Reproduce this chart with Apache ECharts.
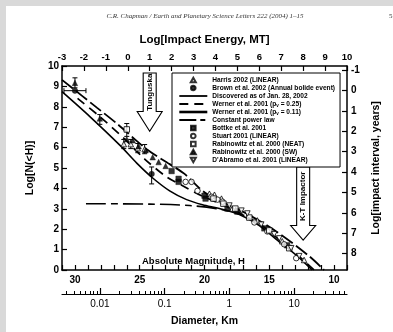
<!DOCTYPE html>
<html><head><meta charset="utf-8">
<script src="https://cdn.jsdelivr.net/npm/echarts@6/dist/echarts.min.js"></script>
<style>
html,body{margin:0;padding:0;background:#d9d9d9;width:393px;height:332px;overflow:hidden}
#page{position:absolute;left:6px;top:6px;width:387px;height:326px;background:#fff}
#chart{position:absolute;left:0;top:0;width:393px;height:332px}
</style></head><body><div id="page"></div><div id="chart"></div>
<script>
// ---- Curves: absolute magnitude H vs log N(<H)
var discH = [31, 28.85, 26.54, 25.23, 24.0, 22.69, 21.38, 20.15, 18.85, 17.31, 15.77, 14.46, 12.92, 11.69];
var discN = [8.74, 7.52, 6.12, 5.24, 4.51, 3.88, 3.45, 3.20, 3.01, 2.72, 2.18, 1.50, 0.73, 0.00];
var w25H = [29.8, 28.08, 26.15, 24.62, 22.92, 21.69, 20.23, 18.46, 16.92, 15.38, 13.85, 12.54, 11.54];
var w25N = [8.41, 7.52, 6.41, 5.44, 4.56, 4.13, 3.64, 3.16, 2.67, 2.09, 1.26, 0.58, 0.00];
var w11H = [31, 28.31, 26.69, 24.46, 22.69, 21.54, 19.85, 16.77, 14.46, 11.92, 10.77];
var w11N = [9.32, 7.96, 7.14, 5.92, 5.19, 4.71, 3.74, 2.77, 1.89, 0.68, 0.00];
var cplH = [29.15, 24.23, 21.15, 19.08, 17.69, 16.92];
var cplN = [3.25, 3.23, 3.16, 3.01, 2.82, 2.67];

// ---- Observed points
var harrisH = [26.23, 25.69, 25.15, 24.62, 19.62, 19.23, 18.69, 17.85, 15.92, 14.0, 12.31];
var harrisN = [6.17, 6.17, 5.97, 5.92, 3.74, 3.69, 3.50, 3.01, 2.43, 1.41, 0.49];
var brownH = [30.0, 24.08];
var brownN = [8.79, 4.71];
var bottkeH = [22.54, 22.0, 22.0, 20.0, 19.92, 18.23, 17.46, 15.38, 13.62];
var bottkeN = [4.85, 4.47, 4.32, 3.64, 3.50, 3.01, 2.86, 2.04, 1.21];
var stuartH = [21.46, 21.0, 20.54, 19.46, 19.0, 18.62, 16.15, 15.15, 13.85, 12.92];
var stuartN = [4.32, 4.32, 3.88, 3.59, 3.45, 3.35, 2.33, 1.89, 1.26, 0.58];
var neatH = [26.0, 19.31, 18.54, 17.62, 16.54, 15.0, 13.46];
var neatN = [6.89, 3.50, 3.25, 3.01, 2.57, 1.94, 1.07];
var swH = [30.0, 28.08, 26.0, 25.54, 25.08, 24.54, 24.0, 23.54, 23.0];
var swN = [9.17, 7.43, 6.41, 6.36, 6.07, 5.87, 5.53, 5.29, 5.10];
var dabH = [18.08, 17.15, 16.69, 15.62, 14.62, 14.23, 13.31, 12.69];
var dabN = [3.16, 2.91, 2.77, 2.23, 1.75, 1.55, 1.07, 0.68];

// ---- Error bars
var ebH  = [30.0, 28.08, 26.0, 26.23, 25.69, 25.15, 24.62, 24.08];
var ebLo = [8.93, 7.14, 6.55, 5.95, 5.95, 5.75, 5.70, 4.22];
var ebHi = [9.42, 7.62, 7.18, 6.40, 6.40, 6.20, 6.15, 5.05];
var ehN  = [8.79];
var ehLo = [30.85];
var ehHi = [29.15];

// ---- Arrows (x in log energy, y in log N)
var arrowE    = [1, 8];
var arrowTop  = [9.66, 5.05];
var arrowBase = [7.77, 2.18];
var arrowTip  = [6.80, 1.46];
var arrowText = ['Tunguska', 'K-T Impactor'];

// ---- Axis ticks
var intervalTicks = [-1,0,1,2,3,4,5,6,7,8];
var diamLeft = 0.0026, diamRight = 65.5;
var diamMajor = [0.01, 0.1, 1, 10];

var FONT = '"Liberation Sans", Arial, sans-serif';
function zip(a,b){return a.map(function(v,i){return [v,b[i]];});}
var diamMinor = [];
[0.001,0.01,0.1,1,10].forEach(function(d){for(var k=2;k<=9;k++){var v=Math.log10(k*d); if(v>Math.log10(diamLeft)&&v<Math.log10(diamRight)) diamMinor.push(v);}});
var diamMajorL = diamMajor.map(function(v){return Math.log10(v);});

var lab = {color:'#000', fontFamily:FONT, fontWeight:'bold', fontSize:10};
var axLine = {show:true, onZero:false, lineStyle:{color:'#000', width:1.5}};
var tick = {show:true, inside:true, length:5, lineStyle:{color:'#000', width:1.2}};

var TRI = 'path://M5,0L10,9L0,9Z';
var TRI_DOWN = 'path://M0,0L10,0L5,9Z';
var SQ = 'path://M0,0L10,0L10,10L0,10Z';
var CIR = 'path://M5,0A5,5,0,1,1,4.99,0Z';

function hollow(){return {color:'#fff', borderColor:'#000', borderWidth:1};}
function filled(){return {color:'#000', borderColor:'#000', borderWidth:0.5};}
function lineS(name, H, N, type, w){
  return {name:name, type:'line', xAxisIndex:0, yAxisIndex:0, data:zip(H,N), symbol:'none', smooth:0.3,
    lineStyle:{color:'#000', width:w||1.6, type:type}, itemStyle:{color:'#000'}, z:3};
}
function scat(name, H, N, sym, st, rot){
  return {name:name, type:'scatter', xAxisIndex:0, yAxisIndex:0, data:zip(H,N), symbol:sym, symbolSize:5.5,
    symbolRotate:rot||0, itemStyle:st, z:5};
}
var noSym = {color:'rgba(0,0,0,0)', borderWidth:0, opacity:0};

var option = {
  animation:false,
  grid:{left:62, top:66, width:285, height:206, show:false},
  xAxis:[
    {type:'value', gridIndex:0, min:9, max:31, interval:1, inverse:true, position:'bottom',
     axisLine:axLine, axisTick:tick, splitLine:{show:false},
     axisLabel:Object.assign({margin:5, formatter:function(v){return v%5===0?String(v):'';}}, lab)},
    {type:'value', gridIndex:0, min:-3, max:10, interval:1, position:'top',
     axisLine:axLine, axisTick:tick, splitLine:{show:false},
     axisLabel:Object.assign({margin:4}, lab, {fontSize:9.5}),
     name:'Log[Impact Energy, MT]', nameLocation:'middle', nameGap:20,
     nameTextStyle:{color:'#000', fontFamily:FONT, fontWeight:'bold', fontSize:11.5}},
    {type:'value', gridIndex:0, min:Math.log10(diamLeft), max:Math.log10(diamRight), position:'bottom', offset:24,
     axisLine:{show:true, onZero:false, lineStyle:{color:'#000', width:1.2}},
     axisTick:{show:true, inside:true, length:3, customValues:diamMinor, lineStyle:{color:'#000', width:1}},
     axisLabel:{show:false}, splitLine:{show:false}},
    {type:'value', gridIndex:0, min:Math.log10(diamLeft), max:Math.log10(diamRight), position:'bottom', offset:24,
     axisLine:{show:false, onZero:false},
     axisTick:{show:true, inside:true, length:6, customValues:diamMajorL, lineStyle:{color:'#000', width:1.2}},
     axisLabel:{show:true, customValues:diamMajorL, margin:5, color:'#000', fontFamily:FONT, fontSize:10,
       formatter:function(v){return String(+Math.pow(10,v).toPrecision(1));}},
     splitLine:{show:false},
     name:'Diameter, Km', nameLocation:'middle', nameGap:22,
     nameTextStyle:{color:'#000', fontFamily:FONT, fontWeight:'bold', fontSize:10.5}}
  ],
  yAxis:[
    {type:'value', gridIndex:0, min:0, max:10, interval:1, position:'left',
     axisLine:axLine, axisTick:tick, splitLine:{show:false},
     axisLabel:Object.assign({margin:3}, lab),
     name:'Log[N(<H)]', nameLocation:'middle', nameGap:26,
     nameTextStyle:{color:'#000', fontFamily:FONT, fontWeight:'bold', fontSize:10.5}},
    {type:'value', gridIndex:0, min:-1.2, max:8.8, inverse:true, position:'right',
     axisLine:axLine, axisTick:Object.assign({customValues:intervalTicks}, tick), splitLine:{show:false},
     axisLabel:Object.assign({margin:4, customValues:intervalTicks}, lab),
     name:'Log[impact interval, years]', nameLocation:'middle', nameGap:22,
     nameTextStyle:{color:'#000', fontFamily:FONT, fontWeight:'bold', fontSize:10.5}}
  ],
  legend:{
    orient:'vertical', left:172, top:73, padding:[3,5,3,6], itemWidth:28, itemHeight:4.6, itemGap:0,
    selectedMode:false, borderColor:'#000', borderWidth:1, backgroundColor:'#fff', z:10,
    textStyle:{color:'#000', fontFamily:FONT, fontWeight:'bold', fontSize:6.6, lineHeight:8,
      rich:{s:{fontSize:4.5, fontWeight:'bold', fontFamily:FONT, color:'#000', verticalAlign:'bottom', lineHeight:8, padding:[3,0,0,0]}}},
    formatter:function(n){return n.replace('(pv', '(p{s|v}');},
    data:[
      {name:'Harris 2002 (LINEAR)', icon:TRI},
      {name:'Brown et al. 2002 (Annual bolide event)', icon:CIR},
      {name:'Discovered as of Jan. 28, 2002', itemStyle:noSym, lineStyle:{type:'solid', width:1.8}},
      {name:'Werner et al. 2001 (pv = 0.25)', itemStyle:noSym, lineStyle:{type:[9,6], width:1.8}},
      {name:'Werner et al. 2001 (pv = 0.11)', itemStyle:noSym, lineStyle:{type:'solid', width:2.6}},
      {name:'Constant power law', itemStyle:noSym, lineStyle:{type:[17,4,5,4], width:1.8}},
      {name:'Bottke et al. 2001', icon:SQ},
      {name:'Stuart 2001 (LINEAR)', icon:CIR},
      {name:'Rabinowitz et al. 2000 (NEAT)', icon:SQ},
      {name:'Rabinowitz et al. 2000 (SW)', icon:TRI},
      {name:"D'Abramo et al. 2001 (LINEAR)", icon:TRI_DOWN}
    ]
  },
  graphic:[
    {type:'text', x:205, y:16, style:{text:'C.R. Chapman / Earth and Planetary Science Letters 222 (2004) 1–15',
      font:'italic 7px "Liberation Serif", serif', fill:'#333', align:'center', verticalAlign:'middle'}},
    {type:'text', x:389, y:16, style:{text:'5', font:'7px "Liberation Serif", serif', fill:'#333', align:'left', verticalAlign:'middle'}},
    {type:'text', x:142, y:261, z:20, style:{text:'Absolute Magnitude, H', font:'bold 9.5px "Liberation Sans", Arial, sans-serif', fill:'#000', align:'left', verticalAlign:'middle'}}
  ],
  series:[
    scat('Harris 2002 (LINEAR)', harrisH, harrisN, 'triangle', hollow()),
    scat('Brown et al. 2002 (Annual bolide event)', brownH, brownN, 'circle', filled()),
    lineS('Discovered as of Jan. 28, 2002', discH, discN, 'solid', 1.6),
    lineS('Werner et al. 2001 (pv = 0.25)', w25H, w25N, [9,6], 1.7),
    lineS('Werner et al. 2001 (pv = 0.11)', w11H, w11N, [14,4], 1.8),
    lineS('Constant power law', cplH, cplN, [20,5,7,5], 1.6),
    scat('Bottke et al. 2001', bottkeH, bottkeN, 'rect', filled()),
    scat('Stuart 2001 (LINEAR)', stuartH, stuartN, 'circle', hollow()),
    scat('Rabinowitz et al. 2000 (NEAT)', neatH, neatN, 'rect', hollow()),
    scat('Rabinowitz et al. 2000 (SW)', swH, swN, 'triangle', filled()),
    scat("D'Abramo et al. 2001 (LINEAR)", dabH, dabN, 'triangle', hollow(), 180),
    {type:'custom', name:'errV', xAxisIndex:0, yAxisIndex:0, z:4,
     data:ebH.map(function(h,i){return [h, ebLo[i], ebHi[i]];}),
     renderItem:function(p, api){
       var x=api.value(0), a=api.coord([x, api.value(1)]), b=api.coord([x, api.value(2)]);
       var st={stroke:'#000', lineWidth:1};
       return {type:'group', children:[
         {type:'line', shape:{x1:a[0],y1:a[1],x2:b[0],y2:b[1]}, style:st},
         {type:'line', shape:{x1:a[0]-2.5,y1:a[1],x2:a[0]+2.5,y2:a[1]}, style:st},
         {type:'line', shape:{x1:b[0]-2.5,y1:b[1],x2:b[0]+2.5,y2:b[1]}, style:st}]};
     }},
    {type:'custom', name:'errH', xAxisIndex:0, yAxisIndex:0, z:4,
     data:ehN.map(function(n,i){return [ehLo[i], n, ehHi[i]];}),
     renderItem:function(p, api){
       var y=api.value(1), a=api.coord([api.value(0), y]), b=api.coord([api.value(2), y]);
       var st={stroke:'#000', lineWidth:1};
       return {type:'group', children:[
         {type:'line', shape:{x1:a[0],y1:a[1],x2:b[0],y2:b[1]}, style:st},
         {type:'line', shape:{x1:a[0],y1:a[1]-2.5,x2:a[0],y2:a[1]+2.5}, style:st},
         {type:'line', shape:{x1:b[0],y1:b[1]-2.5,x2:b[0],y2:b[1]+2.5}, style:st}]};
     }},
    {type:'custom', name:'arrows', xAxisIndex:1, yAxisIndex:0, z:6,
     data:arrowE.map(function(e,i){return [e, arrowTop[i], arrowBase[i], arrowTip[i]];}),
     renderItem:function(p, api){
       var e=api.value(0), t=api.coord([e, api.value(1)]), b=api.coord([e, api.value(2)]), tp=api.coord([e, api.value(3)]);
       var cx=t[0], sw=6.5, hw=12.5;
       return {type:'group', children:[
         {type:'polygon', shape:{points:[[cx-sw,t[1]],[cx+sw,t[1]],[cx+sw,b[1]],[cx+hw,b[1]],[cx,tp[1]],[cx-hw,b[1]],[cx-sw,b[1]]]},
          style:{fill:'#fff', stroke:'#000', lineWidth:1.1}},
         {type:'text', x:cx, y:(t[1]+b[1])/2, rotation:Math.PI/2,
          style:{text:arrowText[p.dataIndex], font:'bold 8px "Liberation Sans", Arial, sans-serif', fill:'#000', align:'center', verticalAlign:'middle'}}]};
     }}
  ]
};
var chart = echarts.init(document.getElementById('chart'), null, {renderer:'canvas'});
chart.setOption(option);
</script></body></html>
